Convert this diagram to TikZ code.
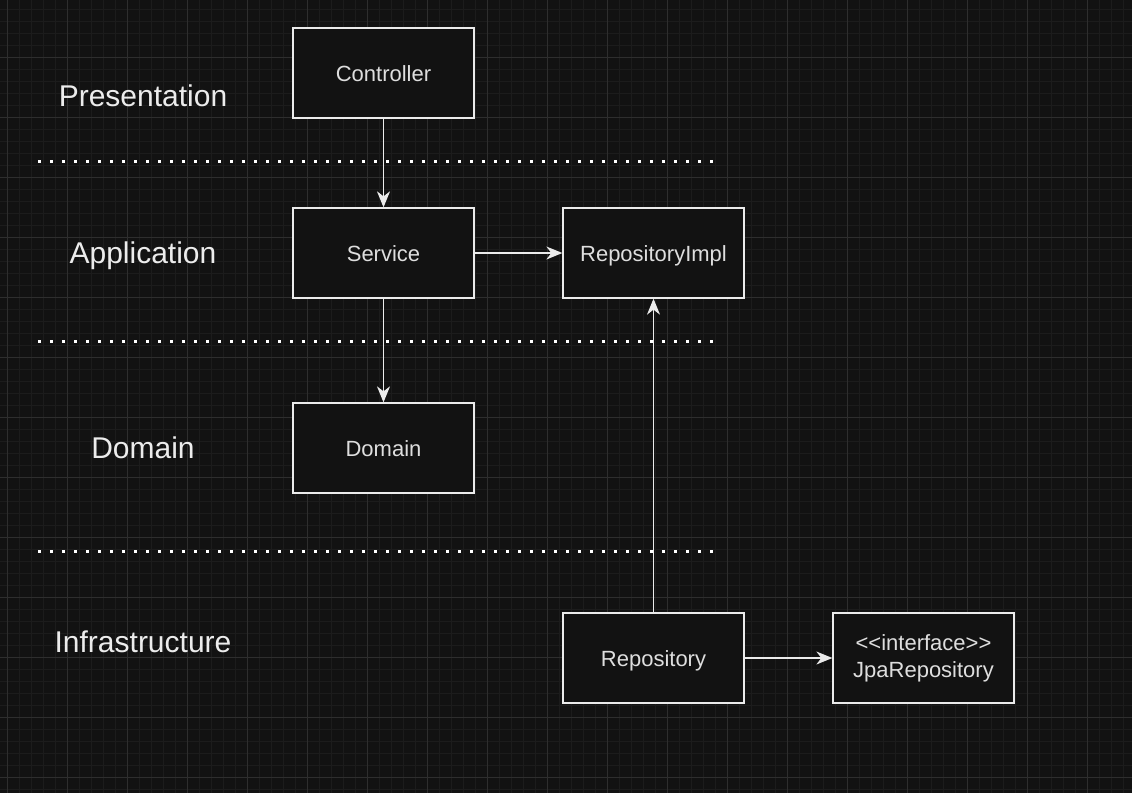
\documentclass[tikz,border=0pt]{standalone}
\usepackage{fontspec}
\setmainfont{Liberation Sans}
\usetikzlibrary{arrows.meta, positioning}
\definecolor{bgdark}{RGB}{18,18,18}
\definecolor{gridminor}{RGB}{28,28,28}
\definecolor{gridmajor}{RGB}{46,46,46}
\definecolor{lineclr}{RGB}{235,235,235}
\definecolor{textclr}{RGB}{236,236,236}
\definecolor{boxtext}{RGB}{222,222,222}
\tikzset{
    layerbox/.style={draw=lineclr, fill=bgdark, line width=1.3pt, minimum width=181pt, minimum height=90pt, inner sep=0pt, align=center, text=boxtext, font=\fontsize{22}{27}\selectfont},
    onebox/.style={layerbox, text height=16pt, text depth=0pt},
    layerlabel/.style={text=textclr, font=\fontsize{30}{36}\selectfont, inner sep=0pt, text height=21.5pt, text depth=0pt},
    sepline/.style={draw=white, line width=3pt, dash pattern=on 3pt off 9pt},
    dep/.style={draw=lineclr, line width=1.3pt, -{Stealth[length=16pt, width=13pt, inset=5pt]}},
}

\begin{document}
\begin{tikzpicture}[x=1pt, y=-1pt]
% background and grid
\fill[bgdark] (0,0) rectangle (1132,793);
\useasboundingbox (0,0) rectangle (1132,793);
\foreach \gx in {7,19,...,1132} \draw[gridminor, line width=0.8pt] (\gx,0) -- (\gx,793);
\foreach \gy in {9,21,...,793} \draw[gridminor, line width=0.8pt] (0,\gy) -- (1132,\gy);
\foreach \gx in {7,67,...,1132} \draw[gridmajor, line width=0.8pt] (\gx,0) -- (\gx,793);
\foreach \gy in {57,117,...,793} \draw[gridmajor, line width=0.8pt] (0,\gy) -- (1132,\gy);
% layer names
\node[layerlabel] (presLbl) at (143,95.3) {Presentation};
\node[layerlabel] (appLbl) at (143,252.3) {Application};
\node[layerlabel] (domLbl) at (143,447.3) {Domain};
\node[layerlabel] (infraLbl) at (143,641.3) {Infrastructure};
% separators
\coordinate (sepA1) at (38,161);
\coordinate (sepA2) at (716,161);
\coordinate (sepB1) at (38,341);
\coordinate (sepB2) at (716,341);
\coordinate (sepC1) at (38,551);
\coordinate (sepC2) at (716,551);
\draw[sepline] (sepA1) -- (sepA2);
\draw[sepline] (sepB1) -- (sepB2);
\draw[sepline] (sepC1) -- (sepC2);
% boxes
\node[onebox] (controller) at (383.5,73) {Controller};
\node[onebox] (service) at (383.5,253) {Service};
\node[onebox] (repoImpl) at (653.5,253) {RepositoryImpl};
\node[onebox] (domain) at (383.5,448) {Domain};
\node[onebox] (repo) at (653.5,658) {Repository};
\node[layerbox] (jpaRepo) at (923.5,658) {<{}<interface>{}>\\JpaRepository};
% dependencies
\draw[dep] (controller) -- (service);
\draw[dep] (service) -- (repoImpl);
\draw[dep] (service) -- (domain);
\draw[dep] (repo) -- (repoImpl);
\draw[dep] (repo) -- (jpaRepo);
\end{tikzpicture}
\end{document}
